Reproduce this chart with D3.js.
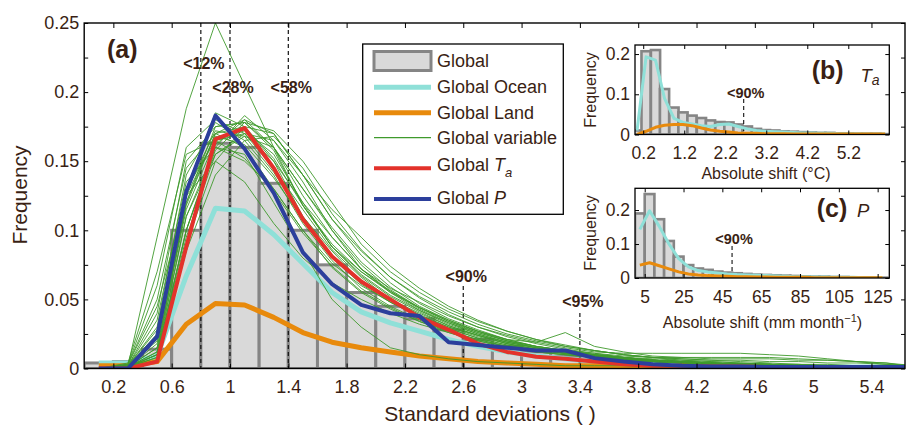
<!DOCTYPE html>
<html><head><meta charset="utf-8">
<script src="https://cdn.jsdelivr.net/npm/d3@7"></script>
<style>
body{margin:0;background:#fff}
svg{display:block}
text{font-family:"Liberation Sans",Arial,Helvetica,sans-serif}
</style>
</head><body>
<svg id="chart" width="906" height="425"></svg>
<script>
// ---------------- DATA: panel (a) ----------------
const binCenters = [0.1,0.3,0.5,0.7,0.9,1.1,1.3,1.5,1.7,1.9,2.1,2.3,2.5,2.7,2.9,3.1,3.3,3.5,3.7,3.9,4.1,4.3,4.5,4.7,4.9,5.1,5.3,5.5,5.7];
const binWidth = 0.2;
const globalFreq = [0.004,0.005,0.014,0.100,0.163,0.160,0.134,0.100,0.075,0.055, 0.045,0.036,0.028,0.021,0.016,0.012,0.009,0.007,0.005,0.004, 0.003,0.003,0.002,0.002,0.002,0.001,0.001,0.001,0.001];
const oceanFreq  = [0.004,0.004,0.009,0.067,0.116,0.114,0.097,0.076,0.055,0.041, 0.033,0.027,0.021,0.016,0.012,0.009,0.007,0.005,0.004,0.003, 0.002,0.002,0.002,0.001,0.001,0.001,0.001,0.001,0.001];
const landFreq   = [0.002,0.002,0.005,0.032,0.047,0.046,0.037,0.026,0.019,0.015, 0.012,0.009,0.007,0.005,0.004,0.003,0.002,0.002,0.001,0.001, 0.001,0.001,0.001,0.0005,0.0005,0.0005,0.0005,0.0005,0.0005];
const taFreq     = [0,0,0.005,0.088,0.166,0.174,0.145,0.108,0.081,0.063, 0.050,0.037,0.028,0.018,0.012,0.0085,0.007,0.005,0.003,0.002, 0.002,0.0015,0.0015,0.001,0.001,0.001,0.001,0.001,0.001];
const pFreq      = [0,0,0.023,0.128,0.183,0.159,0.127,0.084,0.061,0.046, 0.040,0.038,0.019,0.017,0.015,0.013,0.013,0.0075,0.005,0.003, 0.002,0.0015,0.0015,0.001,0.001,0.001,0.001,0.001,0.001];
const variableFreq = [
 [0,.002,.095,.188,.25,.205,.16,.118,.09,.07, .056,.043,.033,.025,.019,.015,.012,.009,.007,.005, .004,.003,.003,.002,.002,.002,.001,.001,.001],
 [0,.002,.04,.15,.175,.178,.16,.13,.1,.072, .058,.048,.038,.03,.024,.019,.015,.012,.011,.011, .011,.011,.011,.01,.009,.007,.005,.004,.001],
 [0,.003,.06,.16,.18,.17,.15,.12,.095,.072, .056,.044,.034,.027,.021,.019,.026,.016,.012,.009, .008,.007,.007,.007,.006,.006,.005,.003,.002],
 [0,.001,.012,.12,.17,.18,.16,.125,.095,.072, .055,.042,.032,.025,.019,.015,.012,.009,.007,.006, .005,.004,.003,.003,.002,.002,.002,.001,.001],
 [0,.002,.02,.13,.185,.175,.15,.11,.085,.063, .048,.038,.029,.022,.017,.013,.011,.009,.007,.005, .004,.003,.003,.002,.002,.002,.001,.001,.001],
 [0,.001,.008,.1,.16,.183,.165,.135,.1,.075, .057,.044,.034,.026,.02,.016,.013,.01,.008,.006, .005,.004,.003,.003,.002,.002,.002,.001,.001],
 [0,.002,.03,.14,.178,.165,.14,.105,.078,.058, .045,.035,.027,.021,.016,.012,.01,.008,.006,.005, .004,.003,.003,.002,.002,.002,.001,.001,.001],
 [0,.001,.006,.09,.15,.175,.17,.14,.108,.082, .062,.047,.036,.028,.021,.016,.013,.01,.008,.006, .005,.004,.003,.003,.002,.002,.002,.001,.001],
 [0,.001,.015,.115,.165,.172,.155,.12,.088,.067, .052,.041,.031,.024,.018,.014,.011,.009,.007,.006, .005,.004,.003,.003,.002,.002,.001,.001,.001],
 [0,.003,.05,.145,.17,.16,.13,.1,.073,.055, .043,.034,.026,.02,.015,.012,.01,.008,.006,.005, .004,.003,.003,.002,.002,.002,.001,.001,.001],
 [0,.001,.01,.11,.155,.168,.16,.13,.102,.077, .059,.045,.035,.027,.02,.015,.012,.01,.008,.006, .005,.004,.003,.003,.002,.002,.002,.001,.001],
 [0,.002,.025,.13,.165,.17,.145,.115,.086,.066, .05,.039,.03,.023,.018,.014,.011,.009,.007,.005, .004,.003,.003,.002,.002,.002,.001,.001,.001],
 [0,.001,.005,.085,.14,.165,.168,.145,.112,.086, .066,.051,.039,.03,.023,.018,.014,.011,.008,.006, .005,.004,.003,.003,.002,.002,.002,.001,.001],
 [0,.002,.035,.135,.16,.15,.13,.1,.076,.06, .048,.038,.03,.024,.018,.014,.011,.009,.007,.006, .005,.004,.003,.003,.002,.002,.002,.001,.001],
 [0,.003,.045,.125,.15,.135,.105,.08,.062,.05, .04,.032,.026,.02,.016,.012,.01,.008,.006,.005, .004,.003,.003,.002,.002,.002,.001,.001,.001],
 [0,.001,.018,.12,.175,.178,.158,.118,.088,.07, .055,.044,.035,.027,.021,.016,.013,.01,.008,.007, .006,.005,.004,.003,.003,.002,.002,.001,.001],
 [0,.001,.008,.095,.155,.17,.165,.14,.115,.095, .074,.058,.045,.035,.027,.021,.016,.013,.01,.008, .006,.005,.004,.003,.003,.002,.002,.001,.001],
 [0,.002,.028,.128,.172,.168,.142,.11,.082,.064, .05,.04,.031,.024,.019,.015,.012,.01,.008,.006, .005,.004,.003,.003,.002,.002,.002,.001,.001],
 [0,.001,.012,.11,.16,.155,.12,.085,.05,.03, .015,.01,.007,.005,.004,.003,.002,.002,.002,.001, .001,.001,.001,.001,.001,.001,.001,.001,.001],
 [0,.002,.022,.125,.168,.162,.138,.108,.08,.061, .048,.037,.029,.022,.017,.013,.011,.009,.007,.006, .005,.004,.003,.003,.002,.002,.002,.001,.001],
 [0,.004,.07,.155,.165,.152,.128,.098,.074,.056, .044,.034,.027,.021,.016,.013,.011,.009,.007,.006, .005,.004,.003,.003,.002,.002,.002,.001,.001],
 [0,.001,.015,.118,.17,.175,.152,.118,.088,.068, .053,.042,.033,.026,.02,.016,.013,.011,.009,.008, .008,.008,.008,.008,.007,.006,.005,.004,.002],
 [0,.001,.01,.1,.162,.18,.17,.14,.108,.085, .066,.052,.041,.032,.025,.02,.016,.013,.01,.008, .007,.006,.006,.005,.005,.004,.004,.003,.002],
 [0,.001,.01,.1,.158,.178,.172,.15,.12,.09, .07,.055,.043,.034,.027,.021,.017,.013,.01,.008, .007,.006,.005,.004,.003,.003,.002,.001,.001]
];
const xTicksA = [0.2,0.6,1,1.4,1.8,2.2,2.6,3,3.4,3.8,4.2,4.6,5,5.4];
const yTicksA = [0,0.025,0.05,0.075,0.1,0.125,0.15,0.175,0.2,0.225,0.25];
const pctX = [0.8,1.0,1.4,2.6,3.4];
const pctLabels = ["<12%","<28%","<58%","<90%","<95%"];
const legendLabels = ["Global","Global Ocean","Global Land","Global variable","Global T","Global P"];

// ---------------- DATA: panel (b) Ta ----------------
const bCenters = [0.05,0.27,0.5,0.72,0.95,1.17,1.39,1.62,1.84,2.07,2.29,2.51,2.74,2.96,3.18,3.41,3.63,3.86,4.08,4.3,4.53,4.75,4.98,5.2,5.42,5.65,5.87,6.1];
const bWidth = 0.224;
const bGlobal = [0.01,0.207,0.21,0.113,0.067,0.055,0.047,0.041,0.035,0.031,0.03,0.025,0.02,0.014,0.011,0.01,0.008,0.007,0.006,0.005,0.004,0.004,0.003,0.003,0.002,0.002,0.002,0.001];
const bOcean  = [0.01,0.193,0.185,0.09,0.04,0.03,0.026,0.022,0.02,0.025,0.026,0.02,0.014,0.01,0.008,0.007,0.006,0.005,0.004,0.004,0.003,0.003,0.002,0.002,0.002,0.001,0.001,0.001];
const bLand   = [0,0.008,0.018,0.023,0.025,0.025,0.022,0.016,0.011,0.008,0.006,0.004,0.003,0.003,0.002,0.002,0.002,0.001,0.001,0.001,0.001,0.001,0.001,0.001,0.001,0.001,0.001,0.001];
const bXTicks = [0.2,1.2,2.2,3.2,4.2,5.2];
const bYTicks = [0,0.1,0.2];
const bPct = 2.65;

// ---------------- DATA: panel (c) P ----------------
const cCenters = [2.5,7.5,12.5,17.5,22.5,27.5,32.5,37.5,42.5,47.5,52.5,57.5,62.5,67.5,72.5,77.5,82.5,87.5,92.5,97.5,102.5,107.5,112.5,117.5,122.5,127.5];
const cWidth = 5;
const cGlobal = [0.19,0.247,0.173,0.109,0.063,0.038,0.028,0.024,0.019,0.016,0.014,0.012,0.01,0.009,0.008,0.007,0.006,0.005,0.004,0.004,0.003,0.003,0.002,0.002,0.002,0.001];
const cOcean  = [0.143,0.198,0.152,0.1,0.057,0.033,0.022,0.018,0.015,0.012,0.01,0.009,0.008,0.007,0.006,0.005,0.004,0.004,0.003,0.003,0.002,0.002,0.002,0.001,0.001,0.001];
const cLand   = [0.038,0.045,0.036,0.027,0.018,0.012,0.009,0.007,0.006,0.005,0.004,0.004,0.003,0.003,0.002,0.002,0.002,0.002,0.001,0.001,0.001,0.001,0.001,0.001,0.001,0.001];
const cXTicks = [5,25,45,65,85,105,125];
const cYTicks = [0,0.1,0.2];
const cPct = 50;

// ---------------- STYLE ----------------
const TXT = "#3a1f14";
const C = {barFill:"#d9d9d9", barStroke:"#858585", ocean:"#8fe0d8", land:"#e88a0c", variable:"#3f9a2c", ta:"#e3322b", p:"#2c3f9c"};
const FONT = '"Liberation Sans",Arial,Helvetica,sans-serif';

const svg = d3.select("#chart");
const defs = svg.append("defs");

// ================= PANEL (a) =================
const A = {l:84.2, r:905, t:23, b:368.5};
const x = d3.scaleLinear().domain([0,5.63]).range([A.l,A.r]);
const y = d3.scaleLinear().domain([0,0.25]).range([A.b,A.t]);
defs.append("clipPath").attr("id","clipA").append("rect")
  .attr("x",A.l).attr("y",A.t).attr("width",A.r-A.l).attr("height",A.b-A.t);

const plotA = svg.append("g").attr("clip-path","url(#clipA)");
plotA.selectAll("rect.bar").data(binCenters.map((c,i)=>({c,v:globalFreq[i]}))).join("rect")
  .attr("x",d=>x(d.c-binWidth/2)).attr("width",d=>x(d.c+binWidth/2)-x(d.c-binWidth/2))
  .attr("y",d=>y(d.v)).attr("height",d=>y(0)-y(d.v))
  .attr("fill",C.barFill).attr("stroke",C.barStroke).attr("stroke-width",3);

// dashed percentile lines
const pctLayout = [{top:A.t,ly:69.3},{top:A.t,ly:93.3},{top:A.t,ly:93.3},{top:286,ly:281.7},{top:313,ly:307.3}];
plotA.selectAll("line.pct").data(pctX).join("line")
  .attr("x1",d=>x(d)).attr("x2",d=>x(d)).attr("y1",(d,i)=>pctLayout[i].top).attr("y2",A.b)
  .attr("stroke","#111").attr("stroke-width",1.2).attr("stroke-dasharray","4,3");

const lineA = d3.line().x((d,i)=>x(binCenters[i])).y(d=>y(d));
plotA.append("path").attr("d",lineA(oceanFreq)).attr("fill","none").attr("stroke",C.ocean).attr("stroke-width",5).attr("stroke-linejoin","round");
plotA.append("path").attr("d",lineA(landFreq)).attr("fill","none").attr("stroke",C.land).attr("stroke-width",5).attr("stroke-linejoin","round");
plotA.selectAll("path.var").data(variableFreq).join("path").attr("class","var")
  .attr("d",d=>lineA(d)).attr("fill","none").attr("stroke",C.variable).attr("stroke-width",0.9);
plotA.append("path").attr("d",lineA(taFreq)).attr("fill","none").attr("stroke",C.ta).attr("stroke-width",4).attr("stroke-linejoin","round");
plotA.append("path").attr("d",lineA(pFreq)).attr("fill","none").attr("stroke",C.p).attr("stroke-width",4).attr("stroke-linejoin","round");

// pct labels
svg.selectAll("text.pct").data(pctLabels).join("text")
  .attr("x",(d,i)=>x(pctX[i])+3).attr("y",(d,i)=>pctLayout[i].ly)
  .attr("text-anchor","middle").attr("font-weight","bold").attr("font-size",16).attr("fill",TXT).text(d=>d);

// axes
function styleAxis(g, fs){
  g.select(".domain").remove();
  g.attr("font-family",FONT).attr("font-size",fs);
  g.selectAll(".tick line").attr("stroke","#000").attr("stroke-width",1);
  g.selectAll("text").attr("fill",TXT);
  g.selectAll("text").filter(function(){return this.textContent==="";}).remove();
}
const fmtA = d => (Math.round(d*1000)%50===0) ? String(d) : "";
svg.append("g").attr("transform",`translate(0,${A.b})`)
  .call(d3.axisBottom(x).tickValues(xTicksA).tickSize(-5).tickPadding(11.7).tickFormat(d=>String(d)))
  .call(g=>styleAxis(g,18));
svg.append("g").attr("transform",`translate(0,${A.t})`)
  .call(d3.axisTop(x).tickValues(xTicksA).tickSize(-5).tickFormat(""))
  .call(g=>styleAxis(g,18));
svg.append("g").attr("transform",`translate(${A.l},0)`)
  .call(d3.axisLeft(y).tickValues(yTicksA).tickSize(-4).tickPadding(5).tickFormat(fmtA))
  .call(g=>styleAxis(g,18));
svg.append("g").attr("transform",`translate(${A.r},0)`)
  .call(d3.axisRight(y).tickValues(yTicksA).tickSize(-4).tickFormat(""))
  .call(g=>styleAxis(g,18));
svg.append("rect").attr("x",A.l).attr("y",A.t).attr("width",A.r-A.l).attr("height",A.b-A.t)
  .attr("fill","none").attr("stroke","#000").attr("stroke-width",1.4);

svg.append("text").attr("x",490).attr("y",421).attr("text-anchor","middle").attr("font-size",21).attr("fill",TXT)
  .text("Standard deviations ( )");
svg.append("text").attr("transform","translate(26.5,195) rotate(-90)").attr("text-anchor","middle").attr("font-size",21).attr("fill",TXT)
  .text("Frequency");
svg.append("text").attr("x",107).attr("y",58).attr("font-size",25).attr("font-weight","bold").attr("fill",TXT).text("(a)");

// legend
const L = {x:362.7, y:44, w:200.6, h:170.3, sx1:374, sx2:431, tx:437};
const legRowY = [61,87.3,112.7,137.7,168.3,199];
const legText = [6,6,6,6,2.4,5.3];
const lg = svg.append("g");
lg.append("rect").attr("x",L.x).attr("y",L.y).attr("width",L.w).attr("height",L.h)
  .attr("fill","#fff").attr("stroke","#000").attr("stroke-width",1.3);
lg.append("rect").attr("x",L.sx1).attr("y",legRowY[0]-9.5).attr("width",L.sx2-L.sx1).attr("height",19)
  .attr("fill",C.barFill).attr("stroke",C.barStroke).attr("stroke-width",3);
const legStyles = [null,[C.ocean,5],[C.land,5],[C.variable,1.2],[C.ta,4],[C.p,4]];
legStyles.forEach((s,i)=>{
  if(!s) return;
  lg.append("line").attr("x1",L.sx1).attr("x2",L.sx2).attr("y1",legRowY[i]).attr("y2",legRowY[i])
    .attr("stroke",s[0]).attr("stroke-width",s[1]);
});
legendLabels.forEach((t,i)=>{
  const tx = lg.append("text").attr("x",L.tx).attr("y",legRowY[i]+legText[i]).attr("font-size",18).attr("fill",TXT);
  if(i===4){
    tx.append("tspan").text("Global ");
    tx.append("tspan").attr("font-style","italic").text("T");
    tx.append("tspan").attr("font-style","italic").attr("font-size",13).attr("dy",6).text("a");
  } else if(i===5){
    tx.append("tspan").text("Global ");
    tx.append("tspan").attr("font-style","italic").text("P");
  } else tx.text(t);
});

// ================= INSETS =================
function inset(o){
  const xs = d3.scaleLinear().domain(o.xDom).range([o.l,o.r]);
  const ys = d3.scaleLinear().domain(o.yDom).range([o.b,o.t]);
  const id = "clip"+o.id;
  defs.append("clipPath").attr("id",id).append("rect").attr("x",o.l).attr("y",o.t).attr("width",o.r-o.l).attr("height",o.b-o.t);
  svg.append("rect").attr("x",o.l).attr("y",o.t).attr("width",o.r-o.l).attr("height",o.b-o.t).attr("fill","#fff");
  const g = svg.append("g").attr("clip-path",`url(#${id})`);
  g.selectAll("rect").data(o.centers.map((c,i)=>({c,v:o.bars[i]}))).join("rect")
    .attr("x",d=>xs(d.c-o.w/2)).attr("width",d=>xs(d.c+o.w/2)-xs(d.c-o.w/2))
    .attr("y",d=>ys(d.v)).attr("height",d=>ys(0)-ys(d.v))
    .attr("fill",C.barFill).attr("stroke",C.barStroke).attr("stroke-width",2.6);
  g.append("line").attr("x1",xs(o.pct)).attr("x2",xs(o.pct)).attr("y1",o.dashTop).attr("y2",o.b)
    .attr("stroke","#111").attr("stroke-width",1.1).attr("stroke-dasharray","4,3");
  const ln = d3.line().x((d,i)=>xs(o.centers[i])).y(d=>ys(d));
  g.append("path").attr("d",ln(o.ocean)).attr("fill","none").attr("stroke",C.ocean).attr("stroke-width",3).attr("stroke-linejoin","round");
  g.append("path").attr("d",ln(o.land)).attr("fill","none").attr("stroke",C.land).attr("stroke-width",3).attr("stroke-linejoin","round");
  svg.append("g").attr("transform",`translate(0,${o.b})`)
    .call(d3.axisBottom(xs).tickValues(o.xTicks).tickSize(-4).tickPadding(12.4).tickFormat(d=>String(d)))
    .call(gg=>styleAxis(gg,17.5));
  svg.append("g").attr("transform",`translate(0,${o.t})`)
    .call(d3.axisTop(xs).tickValues(o.xTicks).tickSize(-4).tickFormat(""))
    .call(gg=>styleAxis(gg,17.5));
  svg.append("g").attr("transform",`translate(${o.l},0)`)
    .call(d3.axisLeft(ys).tickValues(o.yTicks).tickSize(-4).tickPadding(5).tickFormat(d=>String(d)))
    .call(gg=>styleAxis(gg,17.5));
  svg.append("g").attr("transform",`translate(${o.r},0)`)
    .call(d3.axisRight(ys).tickValues(o.yTicks).tickSize(-4).tickFormat(""))
    .call(gg=>styleAxis(gg,17.5));
  svg.append("rect").attr("x",o.l).attr("y",o.t).attr("width",o.r-o.l).attr("height",o.b-o.t)
    .attr("fill","none").attr("stroke","#000").attr("stroke-width",1.3);
  svg.append("text").attr("x",xs(o.pct)+2).attr("y",o.pctY).attr("text-anchor","middle")
    .attr("font-weight","bold").attr("font-size",14.5).attr("fill",TXT).text("<90%");
  svg.append("text").attr("transform",`translate(595.7,${o.ylabY}) rotate(-90)`).attr("text-anchor","middle")
    .attr("font-size",16).attr("fill",TXT).text("Frequency");
  return {xs,ys};
}

inset({id:"B", l:635, r:889.3, t:45, b:134.5, xDom:[0,6.2], yDom:[0,0.2225],
  centers:bCenters, w:bWidth, bars:bGlobal, ocean:bOcean, land:bLand,
  xTicks:bXTicks, yTicks:bYTicks, pct:bPct, dashTop:99, pctY:97.5, ylabY:90});
inset({id:"C", l:635, r:889.3, t:188.3, b:278, xDom:[0,131], yDom:[0,0.264],
  centers:cCenters, w:cWidth, bars:cGlobal, ocean:cOcean, land:cLand,
  xTicks:cXTicks, yTicks:cYTicks, pct:cPct, dashTop:246, pctY:244, ylabY:233});

// inset titles / axis labels
svg.append("text").attr("x",811.7).attr("y",78.5).attr("font-size",25).attr("font-weight","bold").attr("fill",TXT).text("(b)");
const tb = svg.append("text").attr("x",860.5).attr("y",81.7).attr("font-size",18.5).attr("font-style","italic").attr("fill",TXT);
tb.append("tspan").text("T");
tb.append("tspan").attr("font-size",14).attr("dy",3).attr("dx",0).text("a");
svg.append("text").attr("x",816.7).attr("y",217).attr("font-size",25).attr("font-weight","bold").attr("fill",TXT).text("(c)");
svg.append("text").attr("x",857).attr("y",216.7).attr("font-size",18.5).attr("font-style","italic").attr("fill",TXT).text("P");

svg.append("text").attr("x",766).attr("y",179).attr("text-anchor","middle").attr("font-size",16).attr("fill",TXT)
  .text("Absolute shift (°C)");
const xc = svg.append("text").attr("x",762.5).attr("y",328.3).attr("text-anchor","middle").attr("font-size",16).attr("fill",TXT);
xc.append("tspan").text("Absolute shift (mm month");
xc.append("tspan").attr("font-size",11).attr("dy",-6).text("−1");
xc.append("tspan").attr("dy",6).text(")");
</script>
</body></html>
